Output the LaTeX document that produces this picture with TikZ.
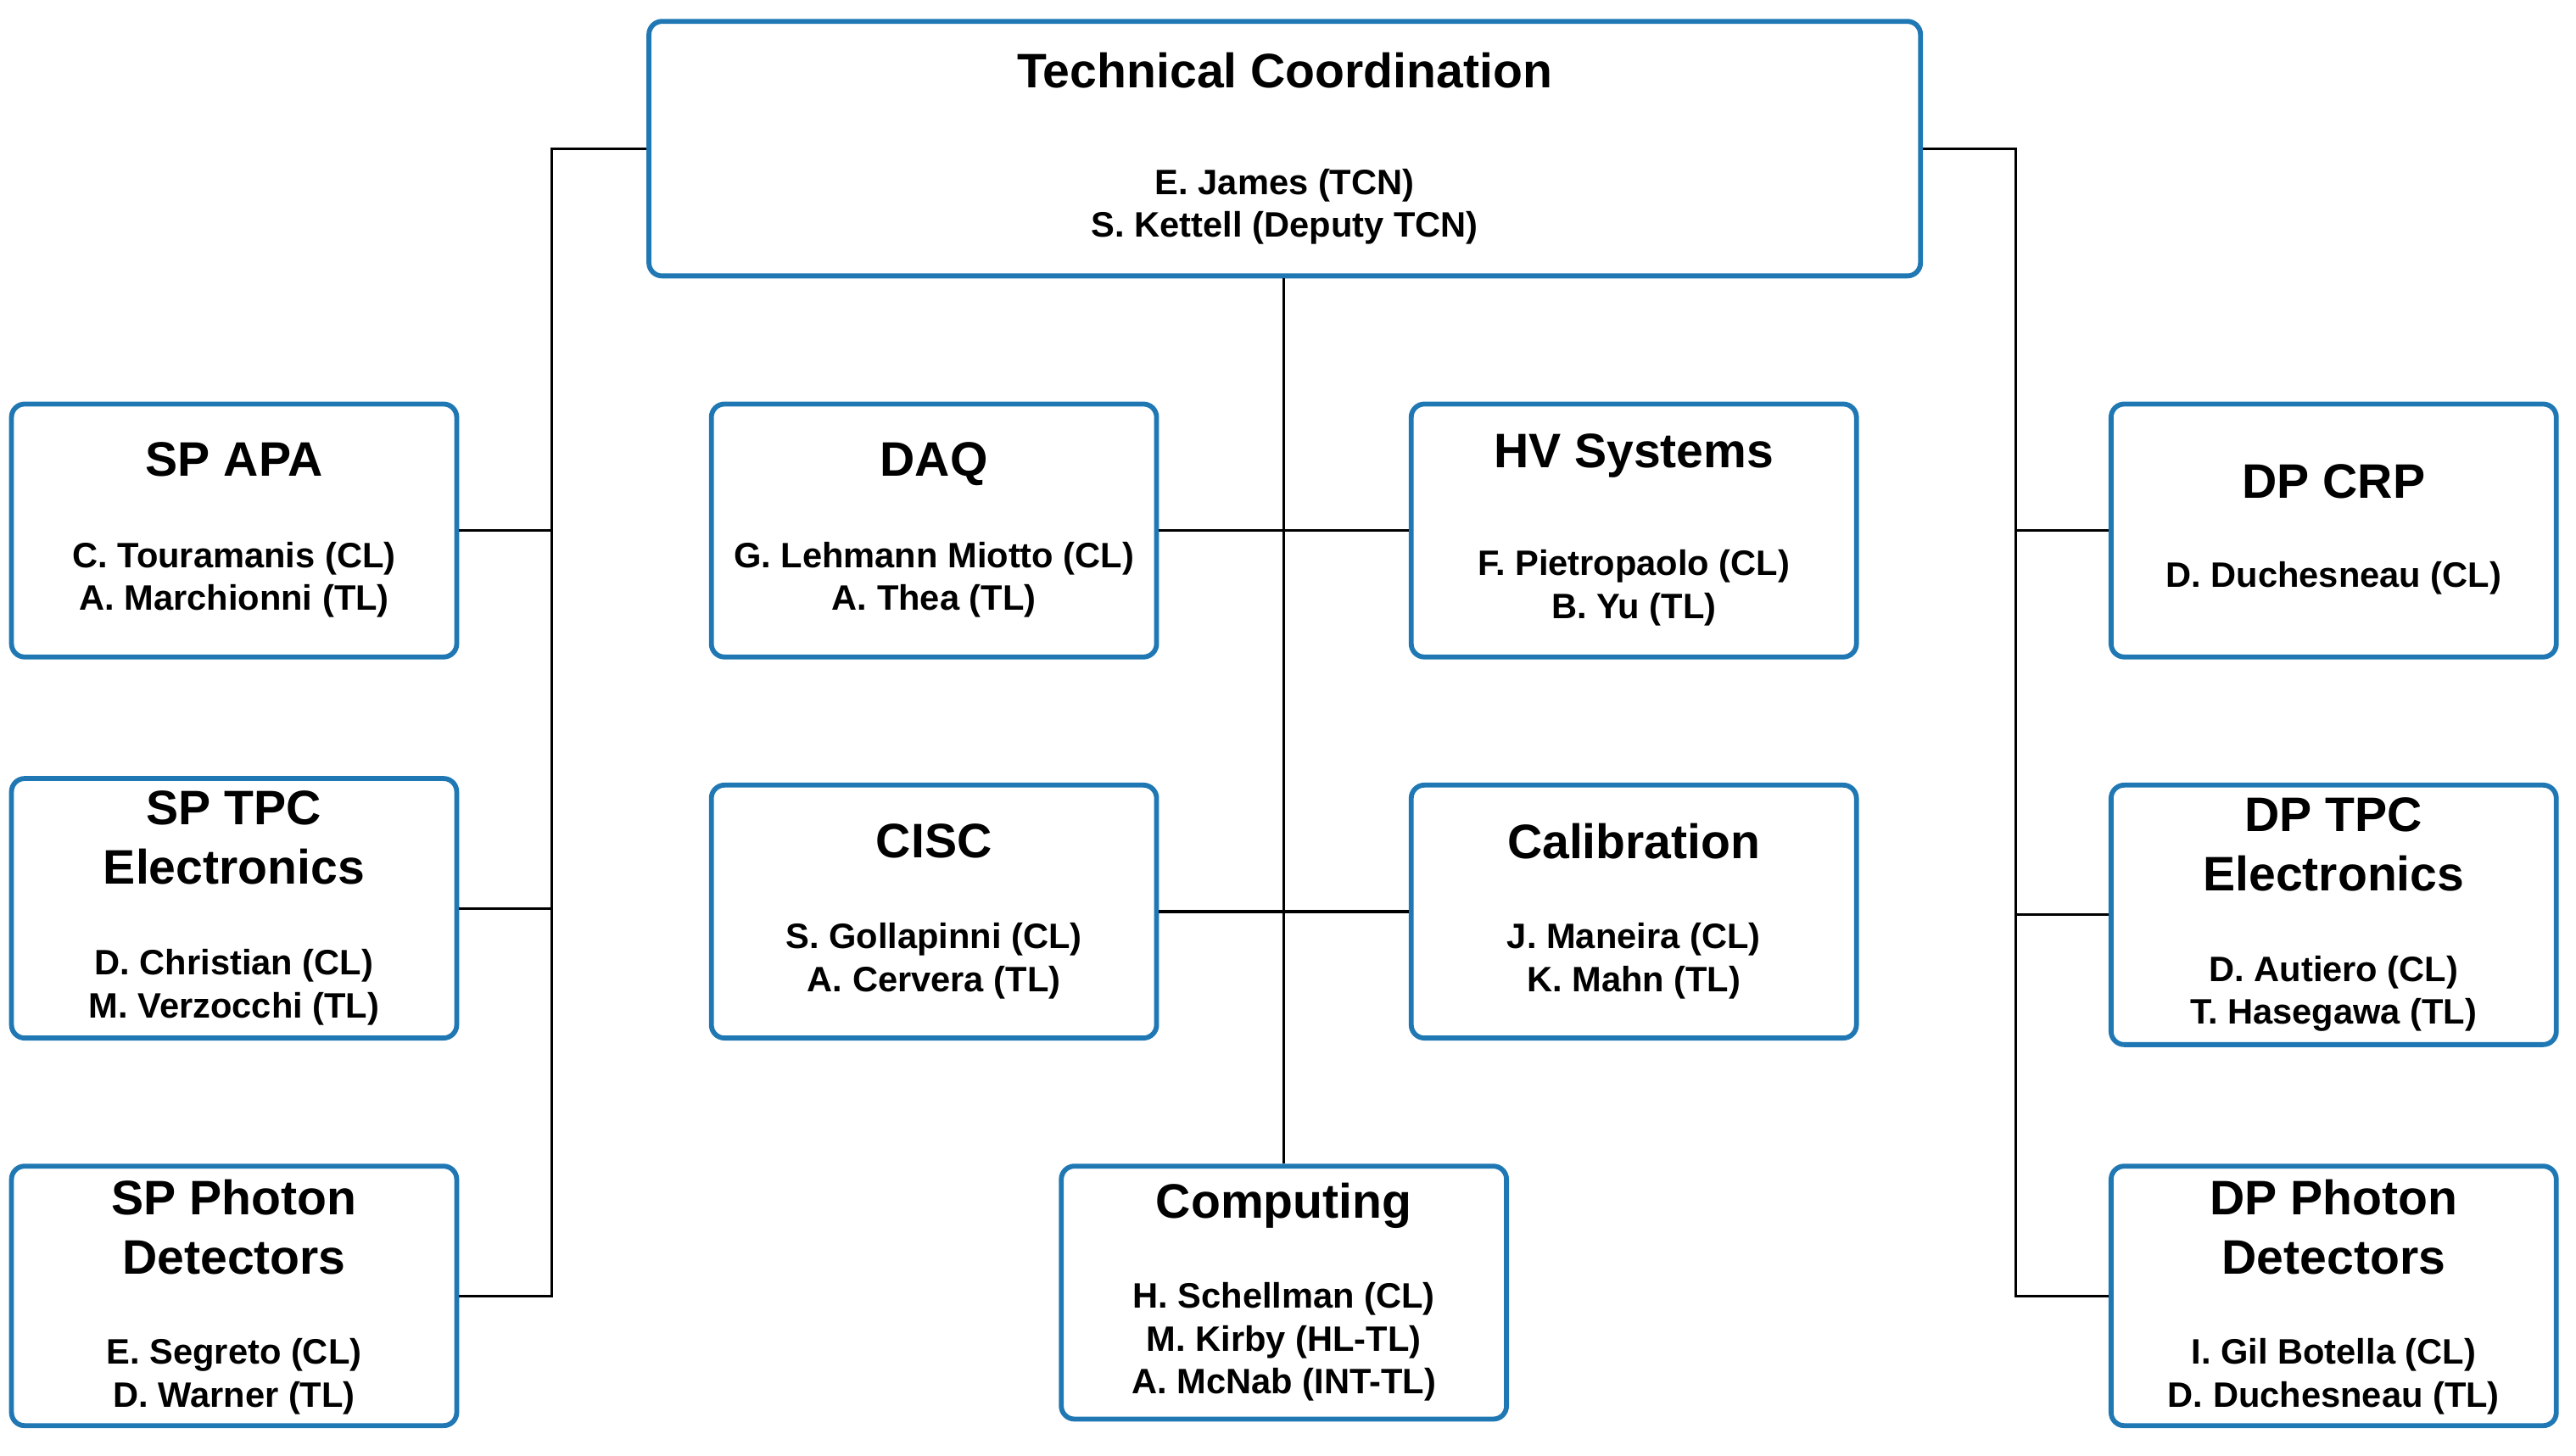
\documentclass[tikz,border=0pt]{standalone}
\usepackage{fontspec}
\setmainfont{Liberation Sans}
\definecolor{boxblue}{RGB}{31,120,180}
\tikzset{
  orgbox/.style={draw=boxblue, line width=3pt, rounded corners=8pt, fill=white, minimum width=271pt, minimum height=154pt, inner sep=0pt},
  ttl/.style={font=\fontsize{29.5}{36}\selectfont\bfseries, align=center, inner sep=0pt},
  nms/.style={font=\fontsize{21.5}{26}\selectfont\bfseries, align=center, inner sep=0pt},
  conn/.style={draw=black, line width=1.6pt}
}
\begin{document}
\begin{tikzpicture}[x=1pt,y=-1pt]
\useasboundingbox (0,0) rectangle (1568,886);
\node[orgbox, minimum width=774pt, minimum height=155pt] (tc) at (782,90.5) {};
\node[orgbox] (apa) at (142.5,323) {};
\node[orgbox, minimum height=158pt] (sptpc) at (142.5,553) {};
\node[orgbox, minimum height=158pt] (sppd) at (142.5,789) {};
\node[orgbox] (daq) at (568.5,323) {};
\node[orgbox] (cisc) at (568.5,555) {};
\node[orgbox] (hv) at (994.5,323) {};
\node[orgbox] (calib) at (994.5,555) {};
\node[orgbox] (comp) at (781.5,787) {};
\node[orgbox] (crp) at (1420.5,323) {};
\node[orgbox, minimum height=158pt] (dptpc) at (1420.5,557) {};
\node[orgbox, minimum height=158pt] (dppd) at (1420.5,789) {};

\coordinate (lt) at (336,90.5);
\coordinate (rt) at (1227,90.5);
\draw[conn] (tc.west) -- (lt) -- (lt |- sppd.east) -- (sppd.east);
\draw[conn] (apa.east) -- (apa.east -| lt);
\draw[conn] (sptpc.east) -- (sptpc.east -| lt);
\draw[conn] (tc.east) -- (rt) -- (rt |- dppd.west) -- (dppd.west);
\draw[conn] (crp.west) -- (crp.west -| rt);
\draw[conn] (dptpc.west) -- (dptpc.west -| rt);
\draw[conn] (comp.north |- tc.south) -- (comp.north);
\draw[conn] (daq.east) -- (hv.west);
\draw[conn] (cisc.east) -- (calib.west);

\node[ttl] (tct) at (782,43) {Technical Coordination};
\node[nms] (tcn) at (782,126) {E. James (TCN)\\S. Kettell (Deputy TCN)};
\node[ttl] (apat) at (142.5,280) {SP APA};
\node[nms] (apan) at (142.5,353) {C. Touramanis (CL)\\A. Marchionni (TL)};
\node[ttl] (sptpct) at (142.5,510) {SP TPC\\Electronics};
\node[nms] (sptpcn) at (142.5,601) {D. Christian (CL)\\M. Verzocchi (TL)};
\node[ttl] (sppdt) at (142.5,747) {SP Photon\\Detectors};
\node[nms] (sppdn) at (142.5,838) {E. Segreto (CL)\\D. Warner (TL)};
\node[ttl] (daqt) at (568.5,282.5) {DAQ};
\node[nms] (daqn) at (568.5,353) {G. Lehmann Miotto (CL)\\A. Thea (TL)};
\node[ttl] (ciscct) at (568.5,512) {CISC};
\node[nms] (ciscn) at (568.5,585) {S. Gollapinni (CL)\\A. Cervera (TL)};
\node[ttl] (hvt) at (994.5,277.5) {HV Systems};
\node[nms] (hvn) at (994.5,358) {F. Pietropaolo (CL)\\B. Yu (TL)};
\node[ttl] (calibt) at (994.5,512) {Calibration};
\node[nms] (calibn) at (994.5,585) {J. Maneira (CL)\\K. Mahn (TL)};
\node[ttl] (compt) at (781.5,734) {Computing};
\node[nms] (compn) at (781.5,817) {H. Schellman (CL)\\M. Kirby (HL-TL)\\A. McNab (INT-TL)};
\node[ttl] (crpt) at (1420.5,293) {DP CRP};
\node[nms] (crpn) at (1420.5,352) {D. Duchesneau (CL)};
\node[ttl] (dptpct) at (1420.5,514) {DP TPC\\Electronics};
\node[nms] (dptpcn) at (1420.5,605) {D. Autiero (CL)\\T. Hasegawa (TL)};
\node[ttl] (dppdt) at (1420.5,747) {DP Photon\\Detectors};
\node[nms] (dppdn) at (1420.5,838) {I. Gil Botella (CL)\\D. Duchesneau (TL)};
\end{tikzpicture}
\end{document}
